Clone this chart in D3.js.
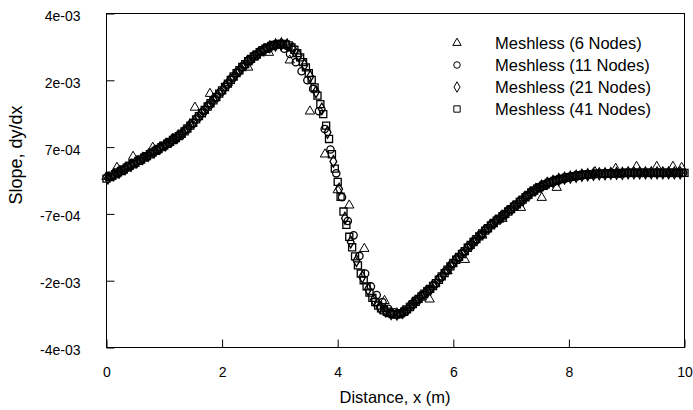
<!DOCTYPE html>
<html>
<head>
<meta charset="utf-8">
<script src="https://cdn.jsdelivr.net/npm/d3@7"></script>
<style>
    body { margin: 0; background: #fff; }
    text { font-family: "Liberation Sans", Arial, sans-serif; fill: #000; }
</style>
</head>
<body>
<div id="viz1"></div>
<script>
var WIDTH = 693
var HEIGHT = 410

// legend / tick text
var seriesNames = ['Meshless (6 Nodes)', 'Meshless (11 Nodes)', 'Meshless (21 Nodes)', 'Meshless (41 Nodes)'];
var xTicks = [0, 2, 4, 6, 8, 10];
var yTicks = [-3.5e-3, -2.1e-3, -0.7e-3, 0.7e-3, 2.1e-3, 3.5e-3];
var yTickLabels = ['-4e-03', '-2e-03', '-7e-04', '7e-04', '2e-03', '4e-03'];

// all slopes below are in units of 1e-4
// 6 nodes (triangles)
var x6 = [0.0, 0.18, 0.46, 0.80, 1.15, 1.53, 1.79, 2.10, 2.45, 2.81, 3.17, 3.52, 3.78, 4.00, 4.20, 4.46, 4.81,
    5.05, 5.30, 5.59, 5.90, 6.20, 6.50, 6.85, 7.17, 7.53, 7.79, 8.10, 8.45, 8.81, 9.17, 9.52, 9.80, 9.95];
var slope6 = [0.8, 2.7, 5.0, 6.9, 8.8, 15.3, 18.2, 20.5, 23.7, 26.8, 25.2, 14.5, 5.5, -2.0, -5.2, -14.3, -25.2,
    -28.2, -25.5, -24.9, -19.0, -16.6, -11.5, -8.0, -5.7, -3.6, -1.5, 0.8, 1.8, 2.5, 2.9, 2.9, 2.9, 2.7];

// 11 nodes (circles), evaluated at 0.075, 0.175, ... 9.975
var x11 = d3.range(100).map(i => 0.075 + i * 0.1);
var slope11 = [
    0.8, 1.5, 2.2, 2.9, 3.6, 4.2, 5.0, 5.7, 6.4, 7.2,
    7.9, 8.7, 9.6, 10.6, 11.8, 13.2, 14.5, 15.9, 17.2, 18.6,
    20.0, 21.5, 22.8, 24.1, 25.3, 26.2, 27.1, 27.8, 28.3, 28.6,
    27.6, 26.5, 24.8, 22.9, 21.0, 19.2, 14.5, 10.8, 6.5, 1.5,
    -3.5, -8.5, -11.5, -15.8, -19.5, -22.2, -24.0, -25.5, -26.9, -27.6,
    -27.9, -27.3, -26.2, -25.1, -24.0, -22.9, -21.8, -20.4, -19.0, -17.6,
    -16.3, -15.1, -13.8, -12.6, -11.4, -10.2, -9.1, -8.2, -7.2, -6.2,
    -5.2, -4.2, -3.2, -2.3, -1.5, -0.9, -0.4, 0.0, 0.3, 0.6,
    0.8, 1.0, 1.2, 1.3, 1.4, 1.4, 1.5, 1.5, 1.5, 1.6,
    1.6, 1.6, 1.6, 1.6, 1.6, 1.6, 1.6, 1.6, 1.6, 1.6];

// 21 nodes (diamonds), evaluated at 0.025, 0.125, ... 9.925
var x21 = d3.range(100).map(i => 0.025 + i * 0.1);
var slope21 = [
    0.5, 1.2, 1.8, 2.5, 3.2, 3.9, 4.6, 5.3, 6.0, 6.8,
    7.5, 8.3, 9.1, 10.0, 11.2, 12.4, 13.8, 15.1, 16.5, 17.8,
    19.2, 20.7, 22.1, 23.4, 24.7, 25.7, 26.6, 27.4, 28.0, 28.4,
    28.6, 28.4, 27.6, 26.2, 24.2, 21.8, 18.6, 15.0, 10.1, 4.0,
    -1.8, -7.9, -12.9, -16.8, -20.2, -22.8, -25.0, -26.5, -27.3, -27.9,
    -28.0, -27.6, -26.7, -25.6, -24.5, -23.4, -22.4, -21.1, -19.7, -18.3,
    -16.9, -15.7, -14.4, -13.2, -12.0, -10.8, -9.7, -8.6, -7.7, -6.7,
    -5.7, -4.7, -3.7, -2.7, -1.9, -1.2, -0.6, -0.2, 0.2, 0.5,
    0.7, 0.9, 1.1, 1.2, 1.3, 1.4, 1.4, 1.5, 1.5, 1.5,
    1.6, 1.6, 1.6, 1.6, 1.6, 1.6, 1.6, 1.6, 1.6, 1.6];

// 41 nodes (squares), evaluated at 0, 0.05, ... 10
var x41 = d3.range(201).map(i => i * 0.05);
var slope41 = [
    0.4, 0.7, 1.0, 1.3, 1.7, 2.0, 2.3, 2.7, 3.1, 3.4, 3.7, 4.1, 4.4, 4.8, 5.1, 5.5, 5.9, 6.2, 6.6, 7.0,
    7.3, 7.7, 8.1, 8.5, 8.9, 9.3, 9.8, 10.3, 10.9, 11.5, 12.1, 12.8, 13.5, 14.1, 14.8, 15.5, 16.2, 16.8, 17.5, 18.2,
    18.9, 19.6, 20.3, 21.1, 21.8, 22.5, 23.1, 23.8, 24.4, 25.0, 25.5, 26.0, 26.4, 26.9, 27.3, 27.6, 27.9, 28.2, 28.4, 28.5,
    28.6, 28.6, 28.5, 28.3, 27.9, 27.4, 26.7, 25.8, 24.8, 23.7, 22.5, 21.1, 19.5, 17.8, 16.0, 13.9, 11.5, 8.7, 5.5, 2.5,
    -0.3, -3.4, -6.5, -9.3, -11.8, -14.0, -15.9, -17.8, -19.5, -20.9, -22.2, -23.5, -24.6, -25.5, -26.2, -26.8, -27.2, -27.5, -27.8, -28.0,
    -28.1, -28.0, -27.8, -27.5, -27.0, -26.5, -25.9, -25.4, -24.8, -24.3, -23.7, -23.2, -22.7, -22.1, -21.5, -20.8, -20.1, -19.4, -18.7, -18.0,
    -17.3, -16.6, -16.0, -15.4, -14.8, -14.1, -13.5, -12.9, -12.3, -11.7, -11.1, -10.5, -10.0, -9.4, -8.9, -8.4, -8.0, -7.5, -7.0, -6.5,
    -6.0, -5.5, -5.0, -4.5, -4.0, -3.5, -3.0, -2.5, -2.1, -1.7, -1.4, -1.1, -0.8, -0.5, -0.3, -0.1, 0.1, 0.3, 0.4, 0.6,
    0.7, 0.8, 0.9, 1.0, 1.1, 1.2, 1.2, 1.3, 1.3, 1.4, 1.4, 1.4, 1.4, 1.5, 1.5, 1.5, 1.5, 1.5, 1.5, 1.6,
    1.6, 1.6, 1.6, 1.6, 1.6, 1.6, 1.6, 1.6, 1.6, 1.6, 1.6, 1.6, 1.6, 1.6, 1.6, 1.6, 1.6, 1.6, 1.6, 1.6,
    1.6];

var series = [
    { name: seriesNames[3], xs: x41, ys: slope41, shape: d3.symbolSquare, size: 50, sw: 1.3 },
    { name: seriesNames[2], xs: x21, ys: slope21, shape: d3.symbolDiamond, size: 40, sw: 1.3 },
    { name: seriesNames[1], xs: x11, ys: slope11, shape: d3.symbolCircle, size: 42, sw: 1.3 },
    { name: seriesNames[0], xs: x6, ys: slope6, shape: d3.symbolTriangle, size: 38, sw: 1 }
];

var plotLeft = 106.5, plotRight = 684.5, plotTop = 13.5, plotBottom = 347.5;

let xScale = d3.scaleLinear().domain([0, 10]).range([plotLeft, plotRight]);
let yScale = d3.scaleLinear().domain([-3.5e-3, 3.5e-3]).range([plotBottom, plotTop]);

const svg = d3.select('#viz1').append('svg')
    .attr('width', WIDTH)
    .attr('height', HEIGHT);

// frame
svg.append('rect')
    .attr('x', plotLeft).attr('y', plotTop)
    .attr('width', plotRight - plotLeft).attr('height', plotBottom - plotTop)
    .attr('fill', 'none').attr('stroke', '#000').attr('stroke-width', 1);

// axes with inside ticks
var yAxis = svg.append('g')
    .attr('transform', 'translate(' + plotLeft + ',0)')
    .call(d3.axisLeft(yScale).tickValues(yTicks)
        .tickFormat((d, i) => yTickLabels[i])
        .tickSizeInner(-8).tickSizeOuter(0).tickPadding(26));
yAxis.select('.domain').remove();
yAxis.selectAll('line').attr('stroke', '#000');
yAxis.selectAll('text').attr('font-size', 14).attr('font-family', '"Liberation Sans", Arial, sans-serif').attr('dy', '0.5em');

var xAxis = svg.append('g')
    .attr('transform', 'translate(0,' + plotBottom + ')')
    .call(d3.axisBottom(xScale).tickValues(xTicks)
        .tickFormat(d3.format('d'))
        .tickSizeInner(-8).tickSizeOuter(0).tickPadding(20));
xAxis.select('.domain').remove();
xAxis.selectAll('line').attr('stroke', '#000');
xAxis.selectAll('text').attr('font-size', 14).attr('font-family', '"Liberation Sans", Arial, sans-serif');

// axis titles
svg.append('text')
    .attr('transform', 'translate(22,155) rotate(-90)')
    .attr('text-anchor', 'middle')
    .attr('font-size', 18)
    .text('Slope, dy/dx');

svg.append('text')
    .attr('x', 395).attr('y', 403)
    .attr('text-anchor', 'middle')
    .attr('font-size', 16.5)
    .text('Distance, x (m)');

// markers
var plot = svg.append('g');
series.forEach(s => {
    var pts = s.xs.map((x, i) => [x, s.ys[i] * 1e-4]);
    plot.selectAll(null)
        .data(pts)
        .enter()
        .append('path')
        .attr('transform', d => 'translate(' + xScale(d[0]) + ',' + yScale(d[1]) + ')')
        .attr('d', d3.symbol().type(s.shape).size(s.size))
        .attr('fill', 'none')
        .attr('stroke', '#000')
        .attr('stroke-width', s.sw);
});

// legend
var legendRows = [0, 1, 2, 3].map(i => series[3 - i]);
var legend = svg.append('g');
legendRows.forEach((s, i) => {
    var y = 43 + i * 22;
    legend.append('path')
        .attr('transform', 'translate(457,' + y + ')')
        .attr('d', d3.symbol().type(s.shape).size(s.size * 0.8))
        .attr('fill', 'none')
        .attr('stroke', '#000')
        .attr('stroke-width', 1);
    legend.append('text')
        .attr('x', 495).attr('y', y)
        .attr('dy', '0.35em')
        .attr('font-size', 16.5)
        .text(s.name);
});
</script>
</body>
</html>
